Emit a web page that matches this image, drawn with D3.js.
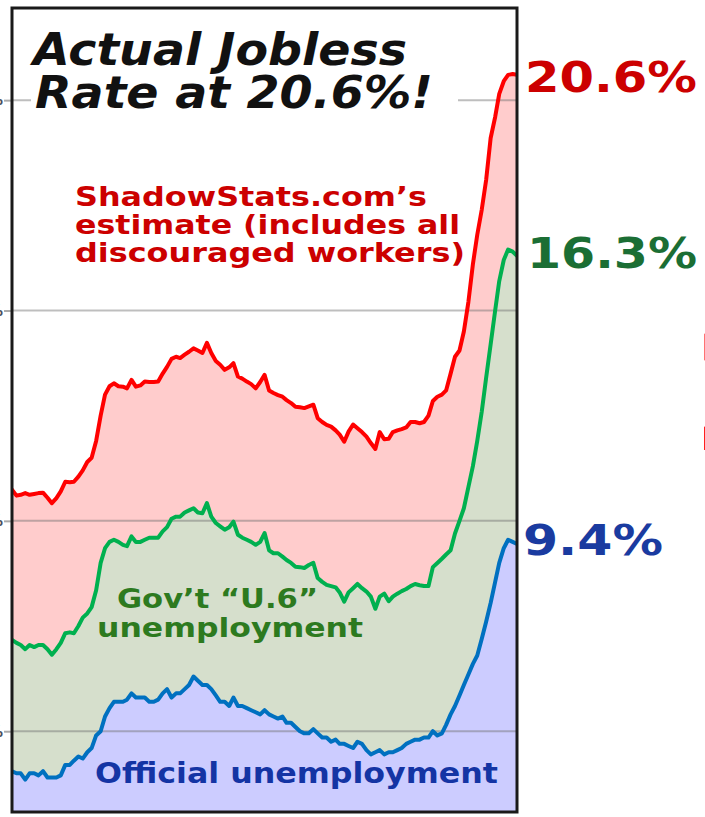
<!DOCTYPE html>
<html>
<head>
<meta charset="utf-8">
<title>Actual Jobless Rate</title>
<script src="https://cdnjs.cloudflare.com/ajax/libs/d3/7.8.5/d3.min.js"></script>
<style>
  body { margin: 0; background: #fff; }
  svg { display: block; }
  text { font-family: "DejaVu Sans", Verdana, sans-serif; font-weight: bold; }
</style>
</head>
<body>
<svg width="705" height="817"></svg>
<script>
/* monthly data, Jan 2000 - Jul 2009 */
var firstMonth = new Date(2000, 0, 1),
    lastMonth = new Date(2009, 6, 1);

var officialRate = [
    4.05, 4.0, 4.0, 3.85, 4.0, 4.0, 3.95, 4.05, 3.9, 3.9, 3.9, 3.95,
    4.2, 4.2, 4.3, 4.4, 4.35, 4.5, 4.6, 4.9, 5.0, 5.35, 5.55, 5.7,
    5.7, 5.7, 5.75, 5.9, 5.8, 5.8, 5.8, 5.7, 5.7, 5.75, 5.9, 6.0,
    5.8, 5.9, 5.9, 6.0, 6.1, 6.3, 6.2, 6.1, 6.1, 6.0, 5.85, 5.7,
    5.7, 5.6, 5.8, 5.6, 5.6, 5.55, 5.5, 5.45, 5.4, 5.5, 5.4, 5.35,
    5.3, 5.35, 5.2, 5.2, 5.1, 5.0, 4.95, 4.95, 5.05, 4.95, 4.85, 4.85,
    4.75, 4.8, 4.7, 4.7, 4.65, 4.6, 4.75, 4.7, 4.55, 4.45, 4.5, 4.55,
    4.45, 4.5, 4.5, 4.55, 4.6, 4.7, 4.75, 4.8, 4.8, 4.85, 4.85, 5.0,
    4.9, 4.95, 5.15, 5.4, 5.6, 5.85, 6.1, 6.35, 6.6, 6.8, 7.2, 7.6,
    8.05, 8.55, 9.0, 9.35, 9.55, 9.5, 9.45
];

var u6Rate = [
    7.17, 7.1, 7.05, 6.95, 7.05, 7.0, 7.05, 7.05, 6.95, 6.82, 6.95, 7.1,
    7.33, 7.35, 7.33, 7.5, 7.7, 7.8, 7.95, 8.35, 9.0, 9.35, 9.5, 9.55,
    9.5, 9.43, 9.4, 9.63, 9.5, 9.5, 9.55, 9.6, 9.6, 9.6, 9.75, 9.85,
    10.05, 10.1, 10.1, 10.2, 10.25, 10.3, 10.2, 10.18, 10.42, 10.1, 9.95, 9.87,
    9.79, 9.85, 9.98, 9.67, 9.6, 9.55, 9.5, 9.43, 9.5, 9.71, 9.3, 9.23,
    9.23, 9.15, 9.07, 9.0, 8.91, 8.9, 8.88, 8.95, 9.0, 8.64, 8.55, 8.48,
    8.45, 8.42, 8.3, 8.08, 8.3, 8.4, 8.5, 8.4, 8.32, 8.2, 7.91, 8.2,
    8.27, 8.09, 8.2, 8.27, 8.33, 8.38, 8.45, 8.5, 8.47, 8.45, 8.45, 8.9,
    9.0, 9.1, 9.2, 9.3, 9.7, 10.0, 10.3, 10.8, 11.3, 11.9, 12.6, 13.4,
    14.2, 15.0, 15.7, 16.2, 16.45, 16.4, 16.3
];

var shadowStatsRate = [
    10.74, 10.6, 10.62, 10.66, 10.62, 10.64, 10.66, 10.67, 10.55, 10.42, 10.54, 10.7,
    10.93, 10.92, 10.93, 11.05, 11.2, 11.4, 11.5, 11.9, 12.5, 13.0, 13.2, 13.27,
    13.2, 13.19, 13.15, 13.35, 13.19, 13.22, 13.31, 13.3, 13.3, 13.31, 13.5, 13.66,
    13.85, 13.9, 13.87, 13.95, 14.02, 14.1, 14.05, 13.99, 14.23, 13.99, 13.8, 13.71,
    13.59, 13.65, 13.75, 13.43, 13.38, 13.31, 13.25, 13.15, 13.3, 13.47, 13.1, 13.04,
    12.99, 12.95, 12.87, 12.8, 12.71, 12.7, 12.68, 12.72, 12.76, 12.44, 12.35, 12.28,
    12.24, 12.15, 12.05, 11.88, 12.12, 12.29, 12.2, 12.11, 12.0, 11.85, 11.71, 12.11,
    11.94, 11.95, 12.11, 12.15, 12.18, 12.22, 12.35, 12.35, 12.32, 12.35, 12.5, 12.85,
    12.95, 13.0, 13.1, 13.5, 13.9, 14.05, 14.5, 15.2, 16.1, 16.8, 17.4, 18.1,
    19.1, 19.6, 20.15, 20.45, 20.6, 20.62, 20.6
];

var tickValues = [5, 10, 15, 20];
var tickLabels = ["5%", "10%", "15%", "20%"];

var latestLabels = ["20.6%", "16.3%", "9.4%"];

var svg = d3.select("svg"),
    width = +svg.attr("width"),
    height = +svg.attr("height");

var plot = { left: 12, right: 517, top: 8, bottom: 812 };

var months = d3.timeMonth.range(firstMonth, d3.timeMonth.offset(lastMonth, 1));

var x = d3.scaleTime()
    .domain([firstMonth, lastMonth])
    .range([plot.left, plot.right]);

var y = d3.scaleLinear()
    .domain([3.08, 22.19])
    .range([plot.bottom, plot.top]);

var rows = months.map(function (m, i) {
    return { date: m, official: officialRate[i], u6: u6Rate[i], sgs: shadowStatsRate[i] };
});

svg.append("defs").append("clipPath")
    .attr("id", "plotClip")
    .append("rect")
    .attr("x", plot.left)
    .attr("y", plot.top)
    .attr("width", plot.right - plot.left)
    .attr("height", plot.bottom - plot.top);

var g = svg.append("g").attr("clip-path", "url(#plotClip)");

// stacked bands: pink between SGS and U6, sage between U6 and official, lavender under official
var bands = [
    { top: "sgs", bottom: "u6", fill: "#ffcccc" },
    { top: "u6", bottom: "official", fill: "#d6dfcc" },
    { top: "official", bottom: null, fill: "#ccccff" }
];

bands.forEach(function (b) {
    var area = d3.area()
        .x(function (d) { return x(d.date); })
        .y0(function (d) { return b.bottom ? y(d[b.bottom]) : plot.bottom + 2; })
        .y1(function (d) { return y(d[b.top]); });
    g.append("path")
        .datum(rows)
        .attr("fill", b.fill)
        .attr("d", area);
});

// grid lines
g.append("g")
    .selectAll("line")
    .data(tickValues)
    .enter().append("line")
    .attr("x1", plot.left)
    .attr("x2", plot.right)
    .attr("y1", function (d) { return y(d); })
    .attr("y2", function (d) { return y(d); })
    .attr("stroke", "#6f6f6f")
    .attr("stroke-opacity", 0.45)
    .attr("stroke-width", 2);

var series = [
    { key: "sgs", stroke: "#ff0000" },
    { key: "u6", stroke: "#00b04f" },
    { key: "official", stroke: "#0070c0" }
];

series.forEach(function (s) {
    var line = d3.line()
        .x(function (d) { return x(d.date); })
        .y(function (d) { return y(d[s.key]); });
    g.append("path")
        .datum(rows)
        .attr("fill", "none")
        .attr("stroke", s.stroke)
        .attr("stroke-width", 4)
        .attr("stroke-linejoin", "round")
        .attr("stroke-linecap", "round")
        .attr("d", line);
});

// left axis, mostly cropped off the page
var axis = svg.append("g")
    .attr("transform", "translate(" + plot.left + ",0)")
    .call(d3.axisLeft(y)
        .tickValues(tickValues)
        .tickFormat(function (d, i) { return tickLabels[i]; })
        .tickSize(8)
        .tickPadding(1));
axis.select(".domain").remove();
axis.selectAll(".tick line").attr("stroke", "#aaa").attr("stroke-width", 2);
axis.selectAll(".tick text")
    .attr("font-size", 15)
    .attr("fill", "#4a5060");

// title, on a white box that hides the top grid line
svg.append("rect")
    .attr("x", 31)
    .attr("y", 24)
    .attr("width", 427)
    .attr("height", 90)
    .attr("fill", "#fff");

var title = [
    { text: "Actual Jobless", x: 33, y: 65, len: 374 },
    { text: "Rate at 20.6%!", x: 35, y: 108, len: 398 }
];
svg.selectAll(".title")
    .data(title)
    .enter().append("text")
    .attr("class", "title")
    .attr("x", function (d) { return d.x; })
    .attr("y", function (d) { return d.y; })
    .attr("textLength", function (d) { return d.len; })
    .attr("lengthAdjust", "spacingAndGlyphs")
    .attr("font-size", 44)
    .attr("font-style", "italic")
    .attr("fill", "#111")
    .text(function (d) { return d.text; });

// series notes inside the plot
var notes = [
    { text: "ShadowStats.com\u2019s", x: 75, y: 206, len: 352, size: 27, fill: "#cc0000" },
    { text: "estimate (includes all", x: 75, y: 234, len: 385, size: 27, fill: "#cc0000" },
    { text: "discouraged workers)", x: 75, y: 262, len: 390, size: 27, fill: "#cc0000" },
    { text: "Gov\u2019t \u201cU.6\u201d", x: 117, y: 608, len: 201, size: 27, fill: "#2d7a1f" },
    { text: "unemployment", x: 97, y: 637, len: 266, size: 27, fill: "#2d7a1f" },
    { text: "Official unemployment", x: 95, y: 783, len: 403, size: 28, fill: "#1434a4" }
];
svg.selectAll(".note")
    .data(notes)
    .enter().append("text")
    .attr("class", "note")
    .attr("x", function (d) { return d.x; })
    .attr("y", function (d) { return d.y; })
    .attr("textLength", function (d) { return d.len; })
    .attr("lengthAdjust", "spacingAndGlyphs")
    .attr("font-size", function (d) { return d.size; })
    .attr("fill", function (d) { return d.fill; })
    .text(function (d) { return d.text; });

// plot frame
svg.append("rect")
    .attr("x", plot.left)
    .attr("y", plot.top)
    .attr("width", plot.right - plot.left)
    .attr("height", plot.bottom - plot.top)
    .attr("fill", "none")
    .attr("stroke", "#1a1a1a")
    .attr("stroke-width", 3);

// latest values at the right
var last = rows[rows.length - 1];
var endLabels = [
    { text: latestLabels[0], v: last.sgs, dy: 17, x: 525, len: 172, fill: "#cc0000" },
    { text: latestLabels[1], v: last.u6, dy: 12, x: 527, len: 170, fill: "#1b6e34" },
    { text: latestLabels[2], v: last.official, dy: 11, x: 523, len: 140, fill: "#1a3ba0" }
];
svg.selectAll(".end")
    .data(endLabels)
    .enter().append("text")
    .attr("class", "end")
    .attr("x", function (d) { return d.x; })
    .attr("y", function (d) { return y(d.v) + d.dy; })
    .attr("textLength", function (d) { return d.len; })
    .attr("lengthAdjust", "spacingAndGlyphs")
    .attr("font-size", 43)
    .attr("fill", function (d) { return d.fill; })
    .text(function (d) { return d.text; });

// edge of a red glyph cut off by the right border of the image
svg.append("text")
    .attr("x", 691)
    .attr("y", 450)
    .attr("font-size", 166)
    .attr("fill", "#ff0000")
    .text("2");
</script>
</body>
</html>
